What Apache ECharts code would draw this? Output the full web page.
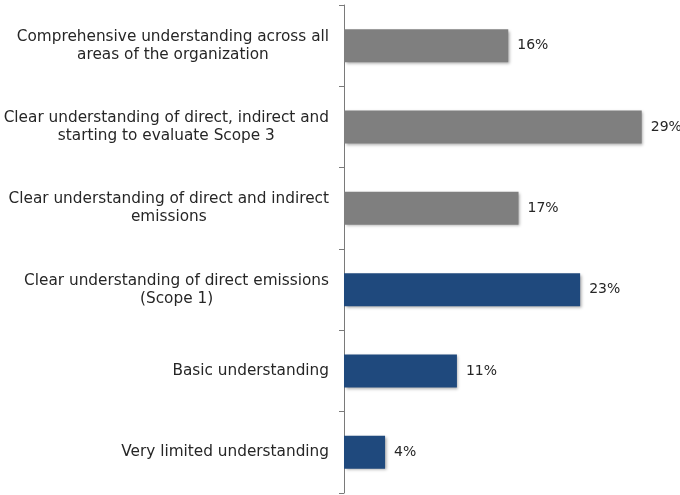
<!DOCTYPE html>
<html>
<head>
<meta charset="utf-8">
<script src="https://cdn.jsdelivr.net/npm/echarts@6/dist/echarts.min.js"></script>
<style>
  html, body { margin: 0; padding: 0; background: #ffffff; }
  #chart { width: 680px; height: 495px; }
</style>
</head>
<body>
<div id="chart"></div>
<script>
// Levels of emissions understanding, top to bottom
const categories = [
  'Comprehensive understanding across all\nareas of the organization',
  'Clear understanding of direct, indirect and\nstarting to evaluate Scope 3',
  'Clear understanding of direct and indirect\nemissions',
  'Clear understanding of direct emissions\n(Scope 1)',
  'Basic understanding',
  'Very limited understanding'
];
// Share of respondents (%)
const shares = [16, 29, 17, 23, 11, 4];

const FONT = 'DejaVu Sans';
const GRAY = '#7f7f7f';
const BLUE = '#1f497d';
const TEXT = '#262626';

const chart = echarts.init(document.getElementById('chart'), null, { renderer: 'canvas' });

chart.setOption({
  animation: false,
  grid: { left: 344, right: 28, top: 5, bottom: 2, containLabel: false },
  xAxis: {
    type: 'value',
    min: 0,
    max: 30,
    show: false
  },
  yAxis: {
    type: 'category',
    inverse: true,
    data: categories,
    axisLine: { show: true, lineStyle: { color: '#7a7a7a', width: 1 } },
    axisTick: { show: true, length: 5, lineStyle: { color: '#7a7a7a' } },
    axisLabel: {
      margin: 15,
      color: TEXT,
      fontFamily: FONT,
      fontSize: 15.3,
      lineHeight: 18,
      formatter: function (v) {
        return v.split('\n').map(function (s) { return '{c|' + s + '}'; }).join('\n');
      },
      rich: {
        c: { align: 'center', fontFamily: FONT, fontSize: 15.3, lineHeight: 18, color: TEXT }
      }
    },
    splitLine: { show: false }
  },
  series: [{
    type: 'bar',
    data: shares,
    barWidth: 33,
    itemStyle: {
      color: function (p) { return p.dataIndex < 3 ? GRAY : BLUE; },
      shadowColor: 'rgba(0,0,0,0.35)',
      shadowBlur: 3,
      shadowOffsetX: 1.5,
      shadowOffsetY: 1.5
    },
    label: {
      show: true,
      position: 'right',
      distance: 9,
      color: TEXT,
      fontFamily: FONT,
      fontSize: 14,
      formatter: '{c}%'
    }
  }]
});
</script>
</body>
</html>
